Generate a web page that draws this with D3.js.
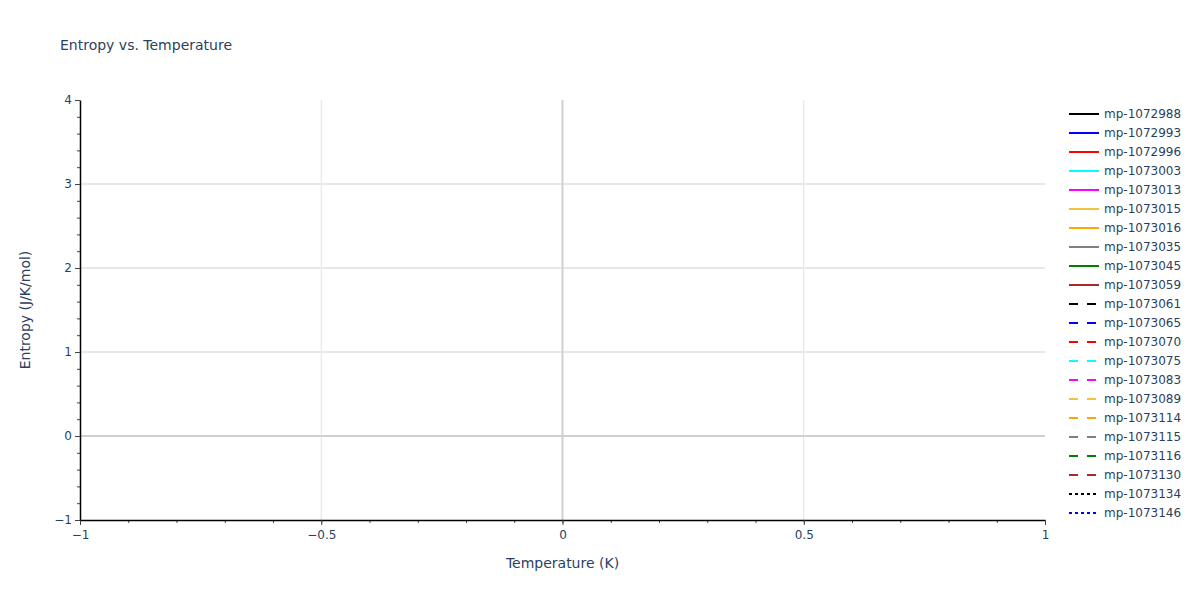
<!DOCTYPE html>
<html>
<head>
    <meta charset="utf-8">
    <title>Entropy vs. Temperature</title>
    <script src="https://cdn.jsdelivr.net/npm/d3@7"></script>
    <style>
        body {
            margin: 0;
            background: white;
        }
        text {
            font-family: "DejaVu Sans", verdana, arial, sans-serif;
            fill: #2a3f5f;
        }
        .tick text {
            font-size: 12px;
        }
    </style>
</head>
<body>
    <div id="chart"></div>

    <script>
        // Series shown in the legend (no points are plotted in the source chart)
        const seriesNames = [
            "mp-1072988", "mp-1072993", "mp-1072996", "mp-1073003", "mp-1073013",
            "mp-1073015", "mp-1073016", "mp-1073035", "mp-1073045", "mp-1073059",
            "mp-1073061", "mp-1073065", "mp-1073070", "mp-1073075", "mp-1073083",
            "mp-1073089", "mp-1073114", "mp-1073115", "mp-1073116", "mp-1073130",
            "mp-1073134", "mp-1073146"
        ];
        const seriesColors = [
            "black", "blue", "red", "cyan", "magenta",
            "#f0c43a", "orange", "gray", "green", "brown",
            "black", "blue", "red", "cyan", "magenta",
            "#f0c43a", "orange", "gray", "green", "brown",
            "black", "blue"
        ];
        const seriesDashes = [
            "solid", "solid", "solid", "solid", "solid",
            "solid", "solid", "solid", "solid", "solid",
            "dash", "dash", "dash", "dash", "dash",
            "dash", "dash", "dash", "dash", "dash",
            "dot", "dot"
        ];
        // temperature / entropy values per series: empty in the reference
        const seriesValues = seriesNames.map(() => []);

        const xTicks = [-1, -0.5, 0, 0.5, 1];
        const yTicks = [-1, 0, 1, 2, 3, 4];
        const xMinor = d3.range(-10, 11).map(d => d / 10);
        const yMinor = d3.range(-5, 21).map(d => d / 5);

        const W = 1200, H = 600;
        const margin = {top: 100, right: 155, bottom: 80, left: 80};
        const width = W - margin.left - margin.right;
        const height = H - margin.top - margin.bottom;

        const dashArray = {solid: null, dash: "9,9", dot: "3,3"};
        const fmt = d => (d < 0 ? "\u2212" : "") + Math.abs(d);

        const svg = d3.select("#chart")
            .append("svg")
            .attr("width", W)
            .attr("height", H);

        const g = svg.append("g")
            .attr("transform", `translate(${margin.left},${margin.top})`);

        const x = d3.scaleLinear().domain([-1, 1]).range([0, width]);
        const y = d3.scaleLinear().domain([-1, 4]).range([height, 0]);

        // grid lines
        g.append("g")
            .selectAll("line")
            .data(xTicks.filter(d => d !== 0 && d !== -1 && d !== 1))
            .join("line")
            .attr("x1", d => x(d)).attr("x2", d => x(d))
            .attr("y1", 0).attr("y2", height)
            .attr("stroke", "#e2e2e2")
            .attr("stroke-width", 1);

        g.append("g")
            .selectAll("line")
            .data(yTicks.filter(d => d !== 0 && d !== -1 && d !== 4))
            .join("line")
            .attr("x1", 0).attr("x2", width)
            .attr("y1", d => y(d)).attr("y2", d => y(d))
            .attr("stroke", "#e8e8e8")
            .attr("stroke-width", 2);

        // zero lines
        g.append("line")
            .attr("x1", x(0)).attr("x2", x(0))
            .attr("y1", 0).attr("y2", height)
            .attr("stroke", "#d0d0d0")
            .attr("stroke-width", 2);
        g.append("line")
            .attr("x1", 0).attr("x2", width)
            .attr("y1", y(0)).attr("y2", y(0))
            .attr("stroke", "#d0d0d0")
            .attr("stroke-width", 2);

        // series lines (nothing to draw, kept for completeness)
        const line = d3.line().x(d => x(d[0])).y(d => y(d[1]));
        g.append("g")
            .selectAll("path")
            .data(seriesValues)
            .join("path")
            .attr("d", d => line(d))
            .attr("fill", "none")
            .attr("stroke", (d, i) => seriesColors[i])
            .attr("stroke-width", 2)
            .attr("stroke-dasharray", (d, i) => dashArray[seriesDashes[i]]);

        // minor ticks
        g.append("g")
            .attr("transform", `translate(0,${height})`)
            .call(d3.axisBottom(x).tickValues(xMinor).tickSize(3).tickFormat(""))
            .call(a => a.select(".domain").remove())
            .call(a => a.selectAll("line").attr("stroke", "#444"));
        g.append("g")
            .call(d3.axisLeft(y).tickValues(yMinor).tickSize(3).tickFormat(""))
            .call(a => a.select(".domain").remove())
            .call(a => a.selectAll("line").attr("stroke", "#444"));

        // major ticks + axis lines
        const xAxis = g.append("g")
            .attr("transform", `translate(0,${height})`)
            .call(d3.axisBottom(x).tickValues(xTicks).tickSize(5).tickSizeOuter(0).tickPadding(5).tickFormat(fmt));
        xAxis.select(".domain").attr("stroke", "black").attr("stroke-width", 1.5);
        xAxis.selectAll(".tick line").attr("stroke", "#444");

        const yAxis = g.append("g")
            .call(d3.axisLeft(y).tickValues(yTicks).tickSize(5).tickSizeOuter(0).tickPadding(3).tickFormat(fmt));
        yAxis.select(".domain").attr("stroke", "black").attr("stroke-width", 1.5);
        yAxis.selectAll(".tick line").attr("stroke", "#444");

        svg.selectAll(".tick text").attr("fill", "#2a3f5f");

        // titles
        svg.append("text")
            .attr("x", 60)
            .attr("y", 50)
            .style("font-size", "14px")
            .text("Entropy vs. Temperature");

        svg.append("text")
            .attr("x", margin.left + width / 2)
            .attr("y", 568)
            .attr("text-anchor", "middle")
            .style("font-size", "14px")
            .text("Temperature (K)");

        svg.append("text")
            .attr("transform", `translate(30,${margin.top + height / 2}) rotate(-90)`)
            .attr("text-anchor", "middle")
            .style("font-size", "14px")
            .text("Entropy (J/K/mol)");

        // legend
        const legend = svg.append("g")
            .attr("transform", "translate(1069,114)");

        const items = legend.selectAll("g")
            .data(seriesNames)
            .join("g")
            .attr("transform", (d, i) => `translate(0,${i * 19})`);

        items.append("line")
            .attr("x1", 0).attr("x2", 30)
            .attr("y1", 0).attr("y2", 0)
            .attr("stroke", (d, i) => seriesColors[i])
            .attr("stroke-width", 2)
            .attr("stroke-dasharray", (d, i) => dashArray[seriesDashes[i]]);

        items.append("text")
            .attr("x", 35)
            .attr("y", 4)
            .style("font-size", "12px")
            .text(d => d);
    </script>
</body>
</html>
